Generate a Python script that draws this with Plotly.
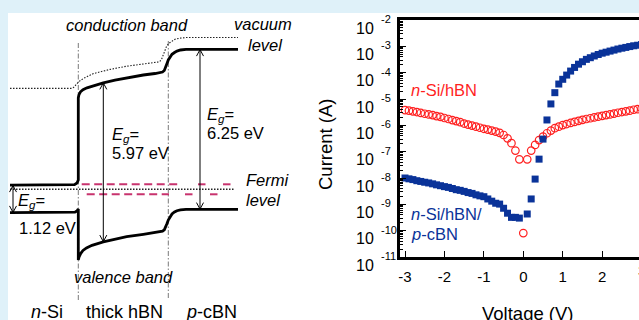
import plotly.graph_objects as go

W, H = 639, 320
FONT = "Liberation Sans, Arial, sans-serif"

# ---------------- I-V data ----------------
voltage = [-3.0, -2.9, -2.8, -2.7, -2.6, -2.5, -2.4, -2.3, -2.2, -2.1,
           -2.0, -1.9, -1.8, -1.7, -1.6, -1.5, -1.4, -1.3, -1.2, -1.1,
           -1.0, -0.9, -0.8, -0.7, -0.6, -0.5, -0.4, -0.3, -0.2, -0.1,
           0.0, 0.1, 0.2, 0.3, 0.4, 0.5, 0.6, 0.7, 0.8, 0.9,
           1.0, 1.1, 1.2, 1.3, 1.4, 1.5, 1.6, 1.7, 1.8, 1.9,
           2.0, 2.1, 2.2, 2.3, 2.4, 2.5, 2.6, 2.7, 2.8, 2.9, 3.0]

current_si_hbn = [3.8e-6, 3.6e-6, 3.4e-6, 3.2e-6, 2.95e-6, 2.75e-6, 2.6e-6, 2.45e-6, 2.25e-6, 2.1e-6,
                  1.9e-6, 1.74e-6, 1.58e-6, 1.45e-6, 1.32e-6, 1.17e-6, 1.07e-6, 9.8e-7, 8.9e-7, 8.1e-7,
                  7.4e-7, 6.9e-7, 6.3e-7, 5.8e-7, 5.2e-7, 4.3e-7, 3.2e-7, 2.1e-7, 1.1e-7, 5.1e-8,
                  8.1e-11, 5.1e-8, 1.1e-7, 1.8e-7, 2.75e-7, 3.7e-7, 5.0e-7, 6.3e-7, 7.8e-7, 8.9e-7,
                  1.02e-6, 1.12e-6, 1.23e-6, 1.35e-6, 1.48e-6, 1.62e-6, 1.74e-6, 1.86e-6, 2.0e-6, 2.14e-6,
                  2.3e-6, 2.45e-6, 2.6e-6, 2.8e-6, 3.0e-6, 3.2e-6, 3.4e-6, 3.6e-6, 3.9e-6, 4.1e-6, 4.4e-6]

current_si_hbn_cbn = [1.0e-8, 9.3e-9, 8.7e-9, 7.9e-9, 7.4e-9, 6.9e-9, 6.5e-9, 6.0e-9, 5.5e-9, 5.1e-9,
                      4.7e-9, 4.4e-9, 4.0e-9, 3.6e-9, 3.4e-9, 3.1e-9, 2.8e-9, 2.6e-9, 2.3e-9, 2.1e-9,
                      1.95e-9, 1.6e-9, 1.32e-9, 1.1e-9, 1.02e-9, 7.1e-10, 4.6e-10, 3.2e-10, 3.2e-10, 3.0e-10,
                      None, 4.3e-10, 1.6e-9, 9.1e-9, 5.2e-8, 3.0e-7, 1.6e-6, 6.5e-6, 1.74e-5, 3.7e-5,
                      5.6e-5, 8.1e-5, 1.15e-4, 1.58e-4, 2.1e-4, 2.6e-4, 3.2e-4, 3.7e-4, 4.3e-4, 4.9e-4,
                      5.5e-4, 6.0e-4, 6.6e-4, 7.2e-4, 7.9e-4, 8.5e-4, 9.1e-4, 9.8e-4, 1.05e-3, 1.1e-3, 1.17e-3]

y_tick_exponents = [-11, -10, -9, -8, -7, -6, -5, -4, -3, -2]
x_tick_values = [-3, -2, -1, 0, 1, 2]
x_tick_labels = ["-3", "-2", "-1", "0", "1", "2"]

# ---------------- band diagram (schematic coordinates) ----------------
vacuum_x = [10, 71.5, 73.5, 75.5, 79, 83.3, 93.3, 110, 126.7, 143.3, 156, 159.5, 161.5, 163, 164.5, 166.5, 168.5, 171.5, 175, 180, 186.7, 238]
vacuum_y = [88.4, 88.4, 87.5, 85.5, 81.5, 78.5, 73.6, 69.4, 66.2, 64.0, 62.6, 61.8, 59.5, 55.5, 50.5, 46.5, 43.6, 41.2, 39.3, 38.1, 37.5, 37.5]

cb_x = [10, 71, 74.5, 77, 78.3, 78.3, 79, 80.5, 83, 87, 93, 103.3, 115, 126.7, 143.3, 155, 160, 162.5, 164.3, 165.6, 166.8, 168.3, 170, 172, 174.5, 177, 180.5, 186, 238]
cb_y = [185.2, 185.2, 184.6, 183, 180, 98, 94.5, 91.8, 89.6, 87.8, 86, 82.8, 80.2, 77.8, 75.0, 73.5, 72.8, 72.0, 70.5, 67.8, 64.0, 60.0, 56.8, 54.3, 52.5, 51.1, 50.0, 49.4, 49.4]

vb_x = [10, 72, 75, 77.2, 78.3, 78.3, 79.2, 80.8, 83, 86.5, 92, 103.3, 115, 126.7, 143.3, 155, 160, 162.5, 164.3, 165.6, 166.8, 168.3, 170, 172, 174.5, 177, 180.5, 186, 238]
vb_y = [212.7, 212.7, 212.1, 210.8, 209.0, 260, 256.5, 253.3, 250.5, 247.9, 245.3, 241.8, 239.0, 236.7, 234.3, 232.8, 232.1, 231.2, 229.8, 227.3, 224.0, 220.0, 216.6, 214.0, 212.0, 210.7, 209.8, 209.3, 209.3]

boundary_x = [78.3, 168.3]
boundary_top = [43, 41]
boundary_bottom = [300, 298]

fermi_x = [10, 235]
fermi_y = 189.3

ef_hbn_upper = [(81.7, 179.5), (198, 205.5), (223, 230.5)]
ef_hbn_upper_y = 184.3
ef_hbn_lower = [(86.7, 169), (185, 192.5), (210, 217.5)]
ef_hbn_lower_y = 194.3

# gap arrows: x, top, bottom
gap_arrows = [(13, 185.6, 212.4), (103.3, 82.9, 241.6), (200, 49.6, 209.1)]

BLUE = "#0a3399"
RED = "#ff1f1f"
PINK = "#c8336e"
LIGHT = "#dff1f9"

fig = go.Figure()

# right I-V plot
fig.add_trace(go.Scatter(
    x=voltage, y=current_si_hbn, mode="markers",
    marker=dict(symbol="circle-open", size=7.5, color=RED, line=dict(width=1.2, color=RED)),
    xaxis="x", yaxis="y", showlegend=False))
fig.add_trace(go.Scatter(
    x=voltage, y=current_si_hbn_cbn, mode="markers",
    marker=dict(symbol="square", size=7, color=BLUE, line=dict(width=0)),
    xaxis="x", yaxis="y", showlegend=False))

# band diagram traces on an overlay axis system
def band_line(xs, ys, color="black", width=1.0, dash="solid"):
    fig.add_trace(go.Scatter(x=xs, y=ys, mode="lines", xaxis="x2", yaxis="y2",
                             line=dict(color=color, width=width, dash=dash),
                             showlegend=False, hoverinfo="skip", cliponaxis=False))

for bx, bt, bb in zip(boundary_x, boundary_top, boundary_bottom):
    band_line([bx, bx], [bt, bb], color="#7a7a7a", width=1, dash="5px,2px,1.5px,2px")

band_line(vacuum_x, vacuum_y, color="#222222", width=1.1, dash="1.5px,1.5px")
band_line(fermi_x, [fermi_y, fermi_y], color="#222222", width=1.4, dash="1.5px,1.5px")

for (a, b) in ef_hbn_upper:
    band_line([a, b], [ef_hbn_upper_y, ef_hbn_upper_y], color=PINK, width=2, dash="8px,4.5px")
for (a, b) in ef_hbn_lower:
    band_line([a, b], [ef_hbn_lower_y, ef_hbn_lower_y], color=PINK, width=2, dash="8px,4.5px")

for ax_, top, bot in gap_arrows:
    band_line([ax_, ax_], [top, bot], color="black", width=1)
    hw, hl = 3.5, 6.5
    band_line([ax_ - hw, ax_, ax_ + hw], [top + hl, top, top + hl], color="black", width=1)
    band_line([ax_ - hw, ax_, ax_ + hw], [bot - hl, bot, bot - hl], color="black", width=1)

band_line(cb_x, cb_y, color="black", width=2.8)
band_line(vb_x, vb_y, color="black", width=2.8)

# ---------------- annotations ----------------
annotations = []

def txt(text, px, py, size=16, color="black", xanchor="left", yanchor="middle", angle=0):
    annotations.append(dict(text=text, x=px / W, y=1 - py / H, xref="paper", yref="paper",
                            xanchor=xanchor, yanchor=yanchor, showarrow=False, textangle=angle,
                            font=dict(family=FONT, size=size, color=color)))

txt("<i>conduction band</i>", 127, 25, size=16.5, xanchor="center")
txt("<i>vacuum</i>", 232, 24, size=16.5)
txt("<i>level</i>", 246, 45, size=16.5)
txt("<i>E</i><sub><i>g</i></sub>=", 110, 135, size=16.5)
txt("5.97 eV", 110, 153, size=16.5)
txt("<i>E</i><sub><i>g</i></sub>=", 205, 115, size=16.5)
txt("6.25 eV", 205, 133, size=16.5)
txt("<i>E</i><sub><i>g</i></sub>=", 16, 201, size=16.5)
txt("1.12 eV", 17, 228, size=16.5)
txt("<i>Fermi</i>", 244, 180, size=16.5)
txt("<i>level</i>", 244, 200, size=16.5)
txt("<i>valence band</i>", 123, 277, size=16.5, xanchor="center")
txt("<i>n</i>-Si", 47, 312, size=18, xanchor="center")
txt("thick hBN", 124, 312, size=18, xanchor="center")
txt("<i>p</i>-cBN", 211, 312, size=18, xanchor="center")

txt("<i>n</i>-Si/hBN", 409, 90, size=16.5, color=RED)
txt("<i>n</i>-Si/hBN/", 409, 214, size=16.5, color=BLUE)
txt("<i>p</i>-cBN", 409, 234, size=16.5, color=BLUE)

txt("Current (A)", 325, 144, size=18.5, xanchor="center", angle=-90)
txt("Voltage (V)", 528, 313, size=18.5, xanchor="center")
txt("3", 641.6, 270, size=15, xanchor="center")

# y tick labels "10" with raised exponent, tied to the log axis
for e in y_tick_exponents:
    annotations.append(dict(text="10", x=376 / W, xref="paper", y=e, yref="y",
                            xanchor="right", yanchor="middle", yshift=-8, showarrow=False,
                            font=dict(family=FONT, size=16, color="black")))
    annotations.append(dict(text="%d" % e, x=379 / W, xref="paper", y=e, yref="y",
                            xanchor="left", yanchor="middle", yshift=1, showarrow=False,
                            font=dict(family=FONT, size=11, color="black")))

minor_vals = []
for e in y_tick_exponents[:-1]:
    for k in range(2, 10):
        minor_vals.append(k * 10.0 ** e)

x_left, x_right = 400, 639
y_top, y_bot = 20, 257
v0_px, px_per_volt = 523.3, 39.43

fig.update_layout(
    width=W, height=H,
    margin=dict(l=0, r=0, t=0, b=0, pad=0, autoexpand=False),
    paper_bgcolor=LIGHT,
    plot_bgcolor="rgba(0,0,0,0)",
    font=dict(family=FONT, color="black"),
    showlegend=False,
    annotations=annotations,
    shapes=[dict(type="rect", xref="paper", yref="paper", x0=8 / W, x1=1.0, y0=0, y1=1 - 13 / H,
                 fillcolor="white", line=dict(width=0), layer="below")],
    xaxis=dict(domain=[x_left / W, 1.0],
               range=[(x_left - v0_px) / px_per_volt, (x_right - v0_px) / px_per_volt],
               showline=True, linecolor="black", linewidth=2.5, mirror=True,
               ticks="inside", ticklen=6, tickwidth=1.2, tickcolor="black",
               tickmode="array", tickvals=x_tick_values, ticktext=x_tick_labels,
               tickfont=dict(family=FONT, size=15), ticklabelstandoff=4,
               showgrid=False, zeroline=False, anchor="y", automargin=False),
    yaxis=dict(domain=[1 - y_bot / H, 1 - y_top / H],
               type="log", range=[-11, -2],
               showline=True, linecolor="black", linewidth=2.5, mirror=False,
               ticks="inside", ticklen=6, tickwidth=1.2, tickcolor="black",
               tickmode="array", tickvals=[10.0 ** e for e in y_tick_exponents],
               showticklabels=False,
               minor=dict(tickmode="array", tickvals=minor_vals, ticks="inside",
                          ticklen=3, tickwidth=1, tickcolor="black", showgrid=False),
               showgrid=False, zeroline=False, anchor="x", automargin=False),
    xaxis2=dict(domain=[0, 1], range=[0, W], visible=False, anchor="y2", fixedrange=True),
    yaxis2=dict(domain=[0, 1], range=[H, 0], visible=False, anchor="x2", fixedrange=True),
)

fig.write_html("out.html", config={"displayModeBar": False},
               post_script="document.body.style.margin='0px';document.body.style.overflow='hidden';")
